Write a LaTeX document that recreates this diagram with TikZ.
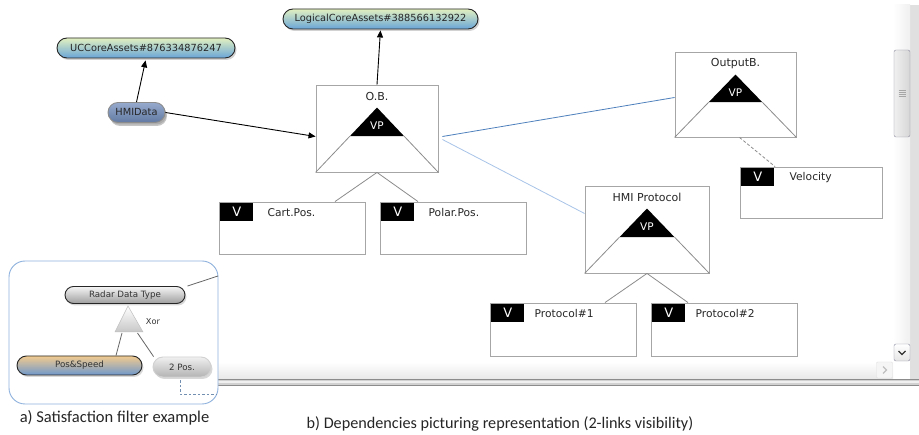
\documentclass[tikz,border=0pt]{standalone}
\usepackage{fontspec}
\setmainfont{DejaVu Sans}
\newfontfamily\capfont{Carlito}
\usetikzlibrary{calc,shadows,arrows.meta}
\definecolor{treeline}{HTML}{8C8C8C}
\definecolor{darkblueline}{HTML}{4F81BD}
\definecolor{lightblueline}{HTML}{A8C4E8}
\definecolor{panelblue}{HTML}{8FB2DE}
\definecolor{gtop}{RGB}{225,240,192}
\definecolor{gmid}{RGB}{160,210,200}
\definecolor{gbot}{RGB}{105,165,215}
\definecolor{htop}{RGB}{150,170,205}
\definecolor{hbot}{RGB}{98,122,162}
\definecolor{otop}{RGB}{242,202,142}
\definecolor{omid}{RGB}{205,190,175}
\definecolor{obot}{RGB}{110,152,204}
\definecolor{sbline}{HTML}{8C8CA0}
\begin{document}
\begin{tikzpicture}[x=1pt,y=-1pt,
  ttl/.style={font=\fontsize{11}{12}\selectfont, text=black!85, inner sep=0},
  lbl/.style={font=\fontsize{10.7}{12}\selectfont, text=black!85, inner sep=0, anchor=west},
  vptext/.style={font=\fontsize{10.5}{11}\selectfont, text=white, inner sep=0},
  boxshape/.style={draw=black!35, line width=0.9pt, fill=white, inner sep=0,
    drop shadow={opacity=0.3, shadow xshift=1.2pt, shadow yshift=-1.2pt}},
  vtag/.style={fill=black, text=white, minimum width=33, minimum height=18, inner sep=0,
    font=\fontsize{13}{13}\selectfont, anchor=north west},
  pill/.style={rounded corners=10pt, draw=black!85, line width=0.9pt, minimum height=20,
    inner sep=0, font=\fontsize{9.8}{11}\selectfont, text=black!85,
    drop shadow={opacity=0.35, shadow xshift=1.5pt, shadow yshift=-2pt}},
  greenpill/.style={pill, top color=gtop, middle color=gmid, bottom color=gbot},
  smallpill/.style={rounded corners=8.5pt, line width=0.9pt, minimum height=17, inner sep=0,
    font=\fontsize{8.7}{10}\selectfont, text=black!80,
    drop shadow={opacity=0.3, shadow xshift=1.5pt, shadow yshift=-2pt}},
  arr/.style={-{Triangle[length=7pt,width=6pt]}, line width=0.9pt, black},
  treelink/.style={draw=treeline, line width=0.8pt},
]
\useasboundingbox (0,0) rectangle (919,435);
\fill[white] (0,0) rectangle (919,435);

% ---------- scroll bars ----------
\fill[black!12] (910,5) rectangle (919,386);
\shade[left color=white, right color=black!6] (893,5) rectangle (910,361);
\node[draw=sbline, rounded corners=2pt, left color=black!6, right color=black!16,
  minimum width=16, minimum height=87, inner sep=0] (thumb) at (902,93.5) {};
\foreach \yy in {90,92,94,96}{\draw[black!35, line width=0.5pt] (898.5,\yy) -- (905.5,\yy);}
\node[draw=sbline, rounded corners=2pt, top color=white, bottom color=black!10,
  minimum width=16, minimum height=17, inner sep=0] (down) at (902,352.5) {};
\draw[black!80, line width=1.3pt] ($(down.center)+(-3.5,-1.5)$) -- ($(down.center)+(0,2)$) -- ($(down.center)+(3.5,-1.5)$);
\shade[top color=white, bottom color=black!9] (218,362) rectangle (893,379);
\node[draw=black!12, fill=black!4, rounded corners=1pt, minimum width=16, minimum height=16, inner sep=0] (right) at (884.5,370) {};
\draw[black!25, line width=1.2pt] ($(right.center)+(-1.5,-3.5)$) -- ($(right.center)+(2,0)$) -- ($(right.center)+(-1.5,3.5)$);
\fill[black!18] (218,379.5) rectangle (919,385.5);
\draw[black!45, line width=0.8pt] (218,379.5) -- (919,379.5) (218,385.5) -- (919,385.5);
\fill[black!6] (218,381.5) rectangle (919,383.5);

% ---------- pills ----------
\node[greenpill, minimum width=195] (lca) at (380.5,19) {LogicalCoreAssets\#388566132922};
\node[greenpill, minimum width=178] (uc) at (146,48) {UCCoreAssets\#876334876247};
\node[pill, draw=black!45, top color=htop, bottom color=hbot, minimum width=57,
  drop shadow={opacity=0.45, shadow xshift=2pt, shadow yshift=-3.5pt}] (hmi) at (136.5,112.5) {HMIData};

% ---------- VP boxes ----------
\node[boxshape, minimum width=122, minimum height=87] (ob) at (377,128.5) {};
\node[boxshape, minimum width=121, minimum height=85] (outb) at (735.5,94.5) {};
\node[boxshape, minimum width=124, minimum height=87] (hmip) at (647,229.5) {};
\node[ttl] (ob-t) at ($(ob.north)+(0,12)$) {O.B.};
\node[ttl] (outb-t) at ($(outb.north)+(0,12)$) {OutputB.};
\node[ttl] (hmip-t) at ($(hmip.north)+(0,11.5)$) {HMI Protocol};
\foreach \b in {ob,outb,hmip}{
  \coordinate (\b-apex) at ($(\b.north)+(0,23)$);
  \coordinate (\b-l) at ($(\b-apex)!0.44!(\b.south west)$);
  \coordinate (\b-r) at ($(\b-apex)!0.44!(\b.south east)$);
  \fill[black] (\b-apex) -- (\b-l) -- (\b-r) -- cycle;
  \draw[treelink] (\b-l) -- (\b.south west) (\b-r) -- (\b.south east);
  \node[vptext] (\b-vp) at ($(\b-apex)!0.64!($(\b-l)!0.5!(\b-r)$)$) {VP};
}

% ---------- V boxes ----------
\node[boxshape, minimum width=146, minimum height=52] (cart) at (292,228) {};
\node[boxshape, minimum width=146, minimum height=52] (polar) at (453,228) {};
\node[boxshape, minimum width=142, minimum height=51] (velo) at (811,192.5) {};
\node[boxshape, minimum width=146, minimum height=53] (p1) at (563,329.5) {};
\node[boxshape, minimum width=146, minimum height=53] (p2) at (724,329.5) {};
\foreach \b/\t/\g in {cart/Cart.Pos./14, polar/Polar.Pos./14, velo/Velocity/15, p1/Protocol\#1/10, p2/Protocol\#2/10}{
  \node[vtag] (\b-v) at ($(\b.north west)+(1.5,1.5)$) {V};
  \node[lbl] (\b-t) at ($(\b-v.east)+(\g,0)$) {\t};
}

% ---------- connectors ----------
\draw[arr, shorten >=2pt] (hmi.north) -- (uc.south);
\draw[arr] (hmi.east) -- ($(ob.west)+(0,8)$);
\draw[arr, shorten >=1pt] (ob.north) -- (lca.south);
\draw[treelink] (ob.south) -- ($(cart.north)+(43,0)$);
\draw[treelink] (ob.south) -- ($(polar.north)+(-35,0)$);
\draw[draw=darkblueline, line width=0.8pt] ($(ob.east)+(4,8)$) -- ($(outb.west)+(0,3)$);
\draw[draw=lightblueline, line width=0.8pt] ($(ob.east)+(4,11)$) -- ($(hmip.west)+(0,-16)$);
\draw[treelink, dash pattern=on 3pt off 2pt] ($(outb.south)+(4,0)$) -- ($(velo.north)+(-36,0)$);
\draw[treelink] (hmip.south) -- ($(p1.north)+(42,0)$);
\draw[treelink] (hmip.south) -- ($(p2.north)+(-36,0)$);

% ---------- panel a ----------
\node[draw=panelblue, line width=0.9pt, fill=white, rounded corners=16pt,
  minimum width=209, minimum height=143, inner sep=0] (panel) at (113.5,332.5) {};
\node[smallpill, draw=black!85, top color=black!4, bottom color=black!38,
  minimum width=120] (radar) at (125,295) {Radar Data Type};
\node[smallpill, draw=black!85, top color=otop, middle color=omid, bottom color=obot,
  minimum width=125, minimum height=19, rounded corners=9.5pt] (posspeed) at (79.5,365.5) {Pos\&Speed};
\node[smallpill, draw=black!18, top color=black!6, bottom color=black!30,
  minimum width=58, minimum height=20, rounded corners=10pt] (twopos) at (182,367) {2 Pos.};
\coordinate (xapex) at (128,306);
\coordinate (xl) at (115,332);
\coordinate (xr) at (143,332);
\shade[top color=white, bottom color=black!22, draw=black!25, line width=0.5pt] (xapex) -- (xl) -- (xr) -- cycle;
\node[font=\fontsize{8.2}{9}\selectfont, text=black!80, inner sep=0] (xor) at (153,322) {Xor};
\coordinate (xbl) at (122,333);
\coordinate (xbr) at (137.5,333);
\draw[black!60, line width=0.8pt] (xbl) -- ($(posspeed.north)+(36.5,0)$);
\draw[black!60, line width=0.8pt] (xbr) -- ($(twopos.north west)+(1,0)$);
\coordinate (radarlink) at (218,276);
\draw[black!60, line width=0.8pt] ($(radar.north east)+(2,0)$) -- (radarlink);
\coordinate (dashcorner) at (180,394);
\coordinate (dashend) at (217,394);
\draw[panelblue!80!black, line width=0.9pt, dash pattern=on 2.5pt off 2pt] ($(twopos.south)+(-2,3)$) -- (dashcorner) -- (dashend);

% ---------- captions ----------
\node[font=\capfont\fontsize{16.5}{18}\selectfont, text=black!85, inner sep=0] (capa) at (114.5,418) {a) Satisfaction filter example};
\node[font=\capfont\fontsize{16.2}{18}\selectfont, text=black!85, inner sep=0] (capb) at (500,424) {b) Dependencies picturing representation (2-links visibility)};
\end{tikzpicture}
\end{document}
